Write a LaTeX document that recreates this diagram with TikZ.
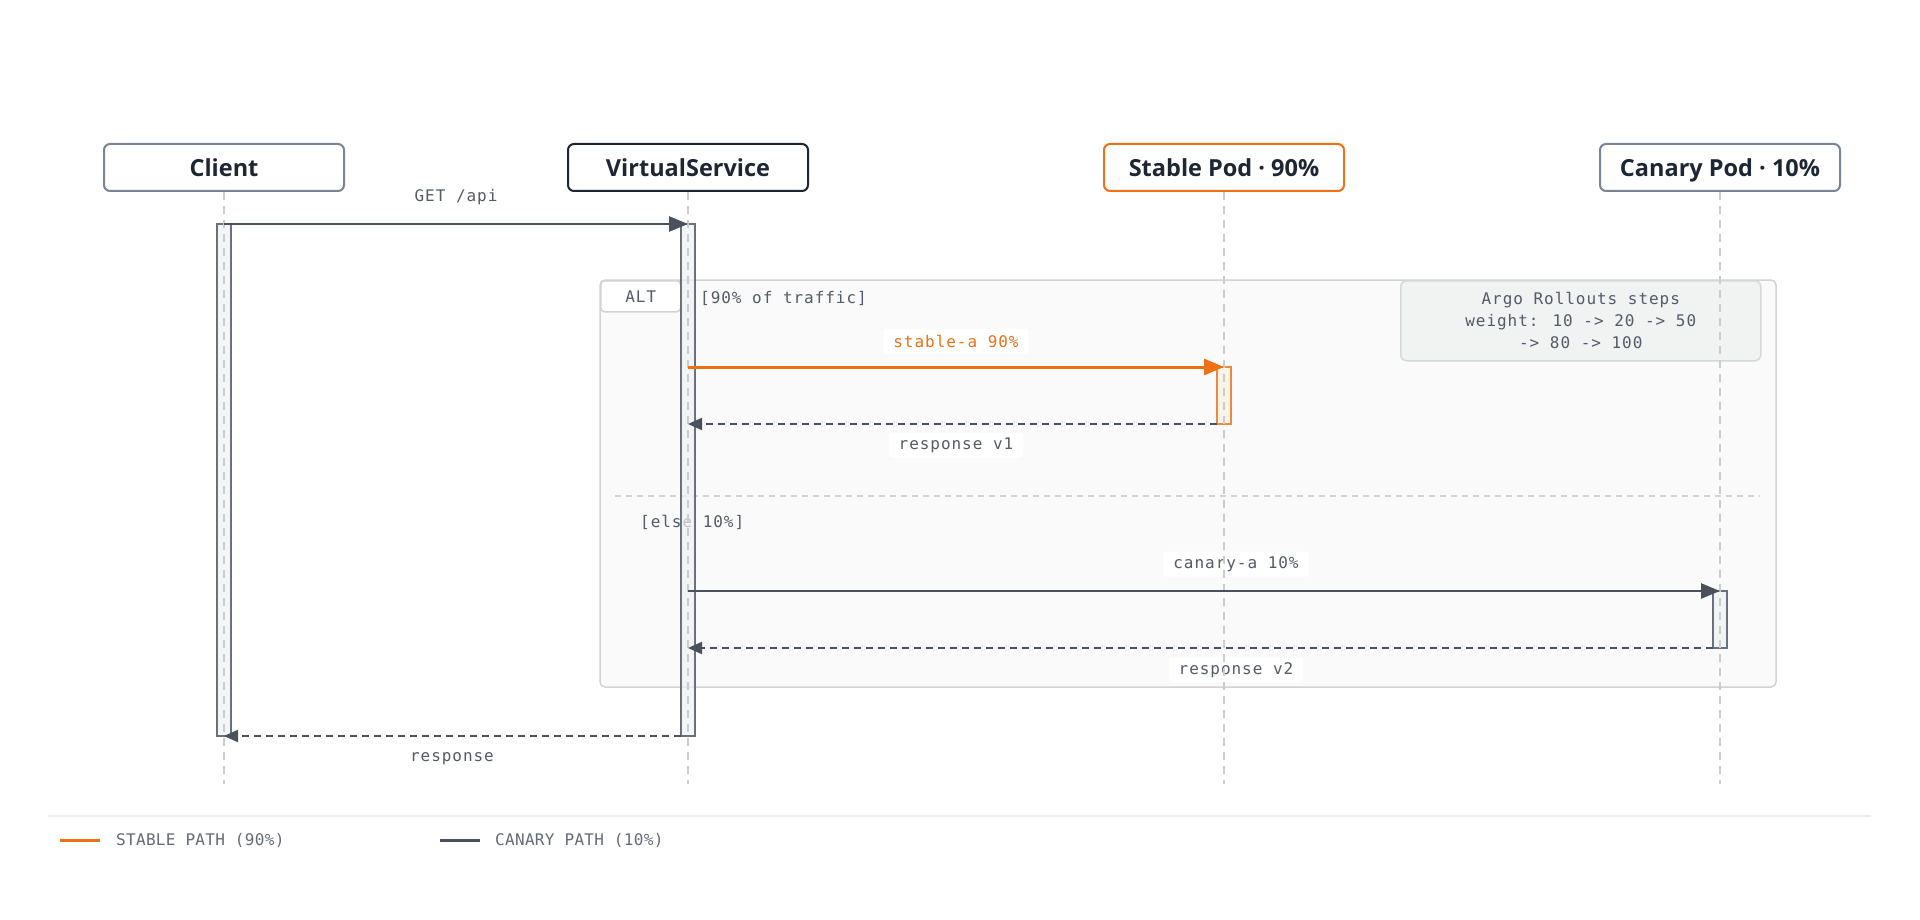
\documentclass[tikz,border=0pt]{standalone}
\usepackage{fontspec}
\usetikzlibrary{arrows.meta}
\newfontfamily\hfont{Open Sans}
\newfontfamily\mfont{DejaVu Sans Mono}[LetterSpace=6]
\newfontfamily\lfont{DejaVu Sans Mono}[LetterSpace=2]
\definecolor{dark}{HTML}{1F2633}
\definecolor{slate}{HTML}{7B8494}
\definecolor{orng}{HTML}{EE7116}
\definecolor{arrowgray}{HTML}{4A505C}
\definecolor{labelgray}{HTML}{545A66}
\definecolor{lifegray}{HTML}{CCCCCC}
\definecolor{framedraw}{HTML}{D3D3D3}
\definecolor{framefill}{HTML}{FAFAFA}
\definecolor{notefill}{HTML}{F1F3F3}
\definecolor{notedraw}{HTML}{D4D8D8}
\definecolor{barfill}{HTML}{EFF1F4}
\definecolor{bardraw}{HTML}{6B717C}
\definecolor{sbarfill}{HTML}{FBF1E1}
\definecolor{sbardraw}{HTML}{EF8A3C}
\definecolor{legendgray}{HTML}{646A76}
\definecolor{sepgray}{HTML}{ECECEC}
\begin{document}
\begin{tikzpicture}[x=1pt,y=-1pt,
  head/.style={rectangle, rounded corners=6pt, line width=2pt, fill=white,
    minimum width=240pt, minimum height=47pt, inner sep=0pt,
    text height=23pt, text depth=5pt,
    font=\hfont\bfseries\fontsize{23.5}{28}\selectfont, text=dark},
  bar/.style={rectangle, minimum width=14pt, inner sep=0pt, outer sep=0pt,
    line width=2pt, draw=bardraw, fill=barfill, fill opacity=0.7},
  sbarstyle/.style={bar, draw=sbardraw, fill=sbarfill},
  life/.style={draw=lifegray, line width=1.5pt, dash pattern=on 8pt off 6pt},
  msg/.style={draw=arrowgray, line width=2.5pt, -{Triangle[length=19pt,width=15pt]}},
  smsg/.style={msg, draw=orng, line width=3pt, -{Triangle[length=20pt,width=16pt]}},
  ret/.style={draw=arrowgray, line width=2pt, dash pattern=on 7pt off 5pt,
    -{Triangle[length=14pt,width=12pt]}},
  mtext/.style={font=\mfont\fontsize{16}{19}\selectfont, text=labelgray, inner sep=0pt},
  lbl/.style={mtext, fill=white, rounded corners=3pt, inner xsep=10pt,
    minimum height=25pt},
  legendtext/.style={font=\lfont\fontsize{16}{19}\selectfont, text=legendgray, inner sep=0pt}
]
\useasboundingbox[fill=white] (0,0) rectangle (1920,920);

% alt frame
\draw[draw=framedraw, fill=framefill, line width=1.5pt, rounded corners=5pt]
  (600,280) rectangle (1776,687);
\node[draw=framedraw, fill=white, line width=1.5pt, rounded corners=4pt,
  minimum width=80pt, minimum height=31pt, inner sep=0pt, anchor=north west,
  mtext] (alt) at (600,280) {ALT};
\node[mtext, anchor=west] (cond1) at (700,298) {[90\% of traffic]};
\draw[draw=framedraw, line width=1.5pt, dash pattern=on 6pt off 5pt]
  (615,496) -- (1760,496);
\node[mtext, anchor=west] (cond2) at (640,522) {[else 10\%]};

% note
\node[draw=notedraw, fill=notefill, line width=1.5pt, rounded corners=6pt,
  minimum width=360pt, minimum height=80pt, inner sep=0pt, anchor=north west,
  mtext, align=center, font=\mfont\fontsize{16}{22}\selectfont] (note) at (1400,280)
  {Argo Rollouts steps\\weight: 10 -> 20 -> 50\\-> 80 -> 100};

% message labels
\node[mtext] (lget) at (456,197) {GET /api};
\node[lbl, text=orng] (lsa) at (956,341) {stable-a 90\%};
\node[lbl] (lr1) at (956,445) {response v1};
\node[lbl] (lca) at (1236,564) {canary-a 10\%};
\node[lbl] (lr2) at (1236,670) {response v2};
\node[mtext] (lresp) at (452,759) {response};

% participants
\node[head, draw=slate] (client) at (224,167.5) {Client};
\node[head, draw=dark] (vs) at (688,167.5) {VirtualService};
\node[head, draw=orng] (stable) at (1224,167.5) {Stable Pod · 90\%};
\node[head, draw=slate] (canary) at (1720,167.5) {Canary Pod · 10\%};

% activation bars
\node[bar, minimum height=512pt] (cbar) at (224,480) {};
\node[bar, minimum height=512pt] (vbar) at (688,480) {};
\node[sbarstyle, minimum height=57pt] (sbar) at (1224,395.5) {};
\node[bar, minimum height=57pt] (kbar) at (1720,619.5) {};

% lifelines
\coordinate (lend) at (0,784);
\foreach \p in {client,vs,stable,canary}
  \draw[life] (\p.south) -- (\p.south |- lend);

% messages
\draw[msg] (cbar.north) -- (vbar.north);
\draw[smsg] (vbar.north |- sbar.north) -- (sbar.north);
\draw[ret] (sbar.south west) -- (sbar.south -| vbar);
\draw[msg] (vbar.north |- kbar.north) -- (kbar.north);
\draw[ret] (kbar.south west) -- (kbar.south -| vbar);
\draw[ret] (vbar.south west) -- (cbar.south);

% legend
\draw[draw=sepgray, line width=2pt] (48,816) -- (1871,816);
\draw[draw=orng, line width=3pt] (60,840) -- (100,840);
\node[legendtext, anchor=west] (leg1) at (116,840) {STABLE PATH (90\%)};
\draw[draw=arrowgray, line width=3pt] (440,840) -- (480,840);
\node[legendtext, anchor=west] (leg2) at (495,840) {CANARY PATH (10\%)};
\end{tikzpicture}
\end{document}
